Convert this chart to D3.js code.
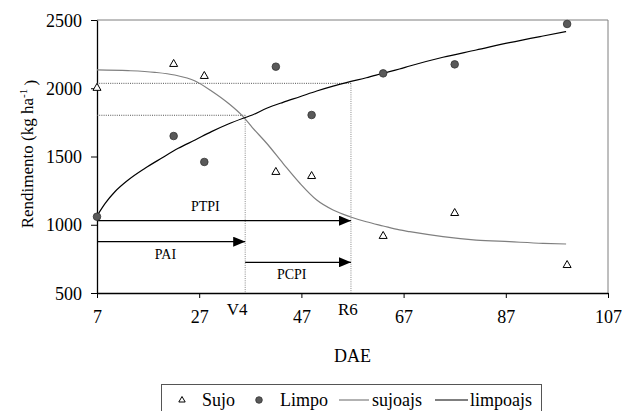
<!DOCTYPE html>
<html>
<head>
<meta charset="utf-8">
<script src="https://cdn.jsdelivr.net/npm/d3@7"></script>
<style>
  body { margin: 0; background: #fff; }
  svg text { font-family: "Liberation Serif", serif; }
</style>
</head>
<body>
<div class="chart"></div>
<script>
var svgWidth = 622;
var svgHeight = 411;

var margin = { top: 20, right: 14, bottom: 118, left: 97 };
var width = svgWidth - margin.left - margin.right;
var height = svgHeight - margin.top - margin.bottom;

// observed points (DAE, kg/ha)
var obsDae = [7, 22, 28, 42, 49, 63, 77, 99];
var sujo = [2003, 2178, 2090, 1387, 1357, 918, 1086, 705];
var limpo = [1059, 1650, 1460, 2158, 1804, 2109, 2175, 2471];

// fitted curves
var sujoajsDae = [7, 13.1, 18.3, 22.2, 26.2, 29.4, 32.7, 35.6, 37.4, 40.2, 43.4, 46.7, 50, 53.2, 56.5, 59.7, 63, 66.2, 68.2, 74.7, 81.2, 87.7, 94.3, 98.8];
var sujoajs = [2134, 2129, 2117, 2097, 2053, 1980, 1890, 1792, 1712, 1597, 1450, 1304, 1181, 1108, 1059, 1022, 991, 962, 949, 913, 888, 876, 864, 859];
var limpoajsDae = [7, 8.6, 10.5, 13.1, 16.4, 19.6, 22.9, 26.2, 29.4, 32.7, 35.6, 37.4, 40.2, 43.4, 46.7, 50, 53.2, 56.5, 59.7, 63, 66.2, 68.2, 74.7, 81.2, 87.7, 94.3, 98.8];
var limpoajs = [1065, 1157, 1242, 1328, 1414, 1487, 1560, 1621, 1682, 1738, 1780, 1804, 1853, 1897, 1938, 1980, 2016, 2048, 2077, 2110, 2141, 2163, 2227, 2280, 2334, 2383, 2415];

// growth stages and weed-interference periods
var stageLabels = ["V4", "R6"];
var stageDae = [36, 56.7];
var stageYield = [1802, 2036];
var periodLabels = ["PTPI", "PAI", "PCPI"];
var periodStart = [7, 7, 36];
var periodEnd = [56.7, 36, 56.7];
var periodYield = [1030, 876, 725];
var periodLabelDae = [28.2, 20.4, 45.1];

var xTicks = [7, 27, 47, 67, 87, 107];
var yTicks = [500, 1000, 1500, 2000, 2500];

var serif = "Liberation Serif";

var svg = d3.select(".chart")
    .append("svg")
    .attr("width", svgWidth)
    .attr("height", svgHeight)
    .attr("font-family", serif);

var chartGroup = svg.append("g")
    .attr("transform", `translate(${margin.left}, ${margin.top})`);

var xScale = d3.scaleLinear().domain([7, 107]).range([0, width]);
var yScale = d3.scaleLinear().domain([500, 2500]).range([height, 0]);

// frame (top and right)
chartGroup.append("path")
    .attr("d", `M0,0H${width}V${height}`)
    .attr("fill", "none")
    .attr("stroke", "#7f7f7f")
    .attr("stroke-width", 1);

// axes
var bottomAxis = d3.axisBottom(xScale).tickValues(xTicks).tickFormat(d3.format("d"))
    .tickSize(5).tickSizeOuter(0).tickPadding(12);
var leftAxis = d3.axisLeft(yScale).tickValues(yTicks).tickFormat(d3.format("d"))
    .tickSize(6).tickSizeOuter(0).tickPadding(9);

var xg = chartGroup.append("g")
    .attr("transform", `translate(0, ${height})`)
    .call(bottomAxis);
var yg = chartGroup.append("g").call(leftAxis);

[xg, yg].forEach(function (g) {
    g.attr("font-family", serif).attr("font-size", 18);
    g.select(".domain").attr("stroke", "#000").attr("stroke-width", 1.3);
    g.selectAll(".tick line").attr("stroke", "#000");
    g.selectAll(".tick text").attr("fill", "#000");
});
yg.selectAll(".tick text").attr("dy", "0.34em");

// dotted guide lines
var dots = chartGroup.append("g")
    .attr("stroke", "#555")
    .attr("stroke-width", 1)
    .attr("stroke-dasharray", "1,1.2")
    .attr("fill", "none");
stageDae.forEach(function (d, i) {
    dots.append("line")
        .attr("x1", xScale(7)).attr("x2", xScale(d))
        .attr("y1", yScale(stageYield[i])).attr("y2", yScale(stageYield[i]));
    dots.append("line")
        .attr("x1", xScale(d)).attr("x2", xScale(d))
        .attr("y1", yScale(stageYield[i])).attr("y2", height)
        .attr("stroke", "#888");
});

// stage labels under the axis
chartGroup.selectAll(".stage")
    .data(stageLabels)
    .enter()
    .append("text")
    .attr("x", (d, i) => xScale(stageDae[i]))
    .attr("dx", (d, i) => i === 0 ? -8 : -3)
    .attr("y", height + 22)
    .attr("text-anchor", "middle")
    .attr("font-size", 17)
    .text(d => d);

// arrows
svg.append("defs").append("marker")
    .attr("id", "arrow")
    .attr("viewBox", "0 0 12 10")
    .attr("refX", 12).attr("refY", 5)
    .attr("markerWidth", 12).attr("markerHeight", 10)
    .attr("markerUnits", "userSpaceOnUse")
    .attr("orient", "auto")
    .append("path")
    .attr("d", "M0,0L12,5L0,10Z")
    .attr("fill", "#000");

periodLabels.forEach(function (p, i) {
    chartGroup.append("line")
        .attr("x1", xScale(periodStart[i]))
        .attr("x2", xScale(periodEnd[i]))
        .attr("y1", yScale(periodYield[i]))
        .attr("y2", yScale(periodYield[i]))
        .attr("stroke", "#000")
        .attr("stroke-width", 1.2)
        .attr("marker-end", "url(#arrow)");
    chartGroup.append("text")
        .attr("x", xScale(periodLabelDae[i]))
        .attr("y", yScale(periodYield[i]) + (i === 0 ? -10 : 17))
        .attr("text-anchor", "middle")
        .attr("font-size", 14)
        .text(p);
});

// fitted curves
var line = d3.line()
    .x(d => xScale(d[0]))
    .y(d => yScale(d[1]))
    .curve(d3.curveMonotoneX);

chartGroup.append("path")
    .datum(sujoajsDae.map((d, i) => [d, sujoajs[i]]))
    .attr("d", line)
    .attr("fill", "none")
    .attr("stroke", "#7f7f7f")
    .attr("stroke-width", 1.2);

chartGroup.append("path")
    .datum(limpoajsDae.map((d, i) => [d, limpoajs[i]]))
    .attr("d", line)
    .attr("fill", "none")
    .attr("stroke", "#000")
    .attr("stroke-width", 1.2);

// markers
var triangle = "M0,-4.5L4,2.5L-4,2.5Z";

chartGroup.selectAll(".limpo")
    .data(obsDae)
    .enter()
    .append("circle")
    .attr("cx", d => xScale(d))
    .attr("cy", (d, i) => yScale(limpo[i]))
    .attr("r", 3.8)
    .attr("fill", "#595959")
    .attr("stroke", "#333")
    .attr("stroke-width", 0.8);

chartGroup.selectAll(".sujo")
    .data(obsDae)
    .enter()
    .append("path")
    .attr("d", triangle)
    .attr("transform", (d, i) => `translate(${xScale(d)}, ${yScale(sujo[i])})`)
    .attr("fill", "#fff")
    .attr("stroke", "#000")
    .attr("stroke-width", 1);

// axis titles
chartGroup.append("text")
    .attr("x", width / 2)
    .attr("y", height + 69)
    .attr("text-anchor", "middle")
    .attr("font-size", 18)
    .text("DAE");

var yTitle = svg.append("text")
    .attr("transform", "translate(33, 154) rotate(-90)")
    .attr("text-anchor", "middle")
    .attr("font-size", 17);
yTitle.append("tspan").text("Rendimento (kg ha");
yTitle.append("tspan").attr("dy", "-0.55em").attr("font-size", 11).text("-1");
yTitle.append("tspan").attr("dy", "0.55em").text("\u2009)");

// legend
var legend = svg.append("g");
legend.append("rect")
    .attr("x", 161.5).attr("y", 384.5)
    .attr("width", 380).attr("height", 40)
    .attr("fill", "#fff")
    .attr("stroke", "#555")
    .attr("stroke-width", 1);

var legY = 400;
legend.append("path")
    .attr("d", "M0,-3.5L3.2,2L-3.2,2Z")
    .attr("transform", `translate(182, ${legY})`)
    .attr("fill", "#fff").attr("stroke", "#000");
legend.append("circle")
    .attr("cx", 259).attr("cy", legY).attr("r", 3.3)
    .attr("fill", "#595959").attr("stroke", "#333").attr("stroke-width", 0.8);
legend.append("line")
    .attr("x1", 339).attr("x2", 369).attr("y1", legY).attr("y2", legY)
    .attr("stroke", "#7f7f7f").attr("stroke-width", 1.2);
legend.append("line")
    .attr("x1", 435).attr("x2", 468).attr("y1", legY).attr("y2", legY)
    .attr("stroke", "#000").attr("stroke-width", 1.2);

var legendNames = ["Sujo", "Limpo", "sujoajs", "limpoajs"];
var legendTextX = [202, 280, 372, 470];
legend.selectAll(".lt")
    .data(legendNames)
    .enter()
    .append("text")
    .attr("x", (d, i) => legendTextX[i])
    .attr("y", 406)
    .attr("font-size", 18)
    .text(d => d);
</script>
</body>
</html>
